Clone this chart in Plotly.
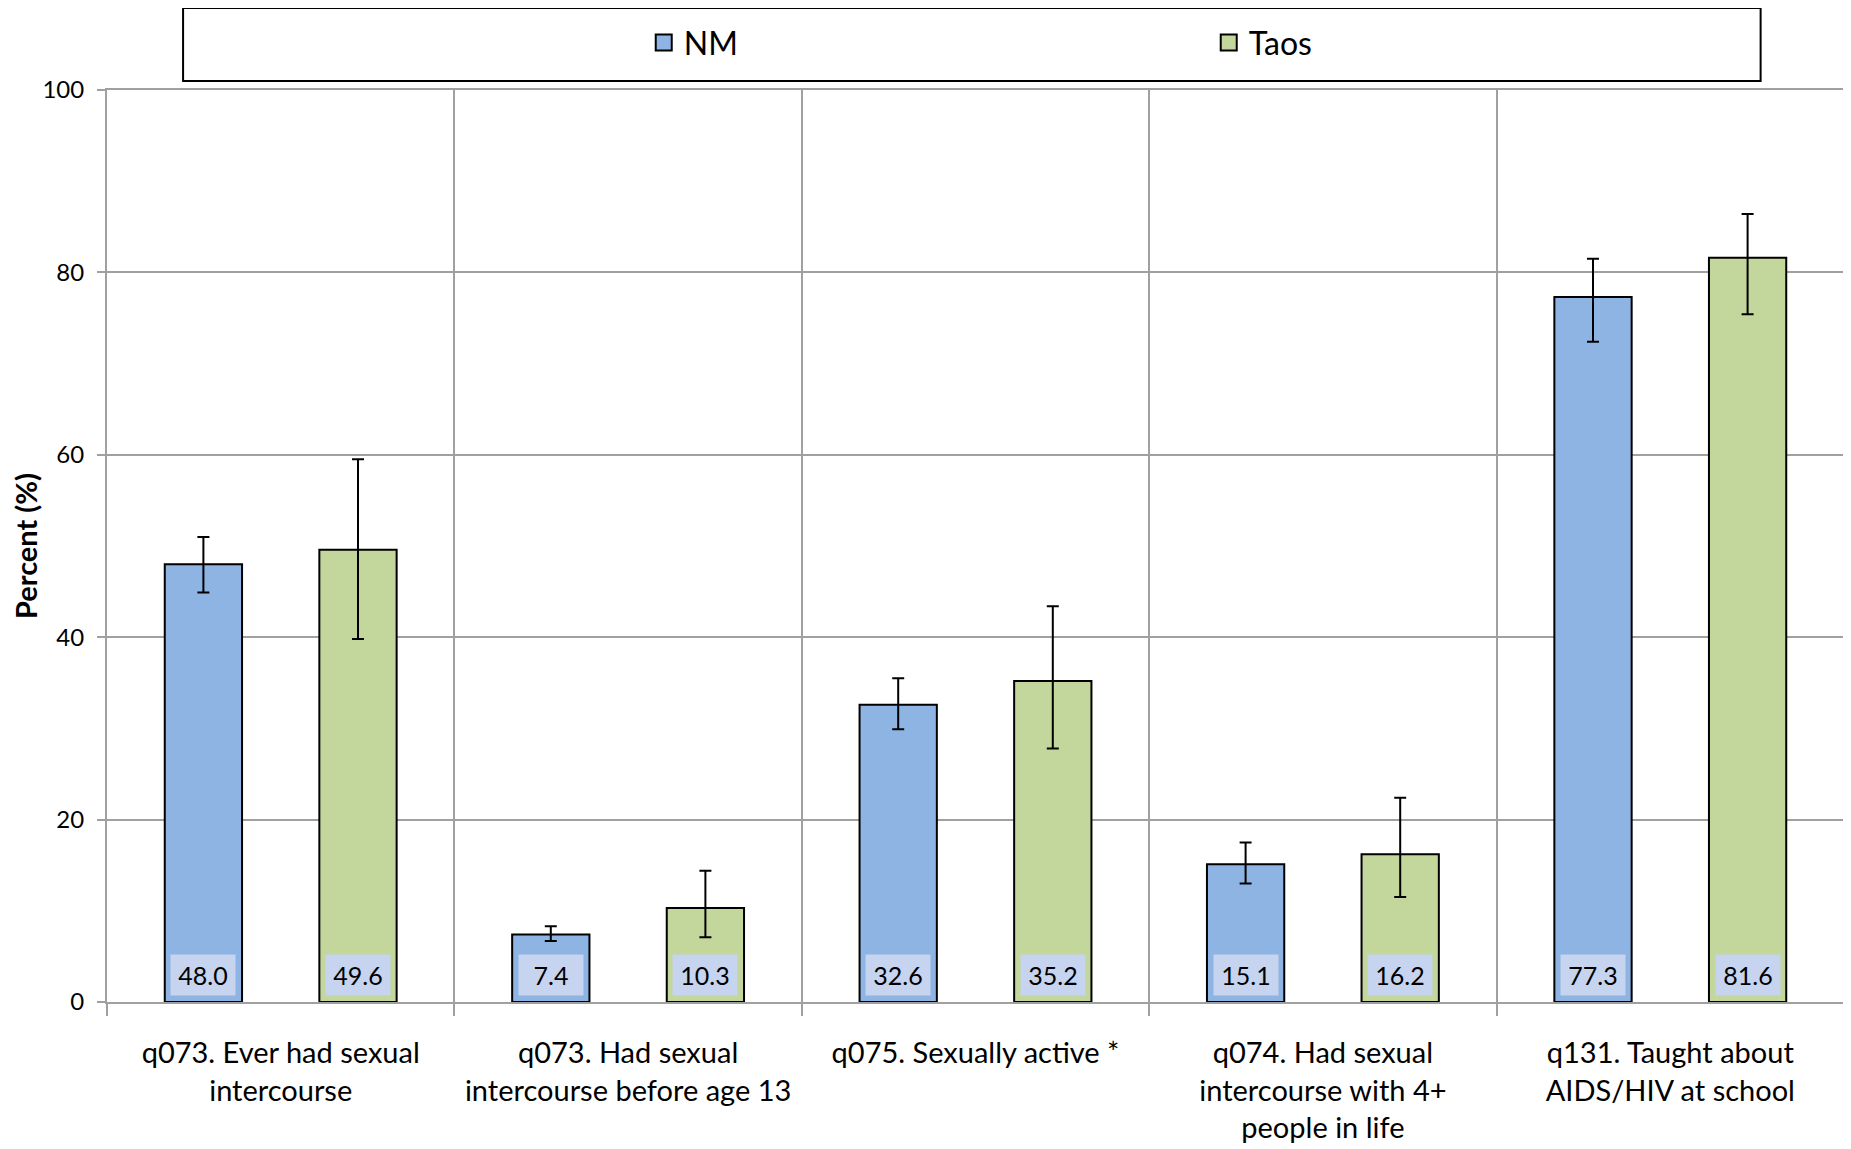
import plotly.graph_objects as go

categories = [
    "q073. Ever had sexual<br>intercourse",
    "q073. Had sexual<br>intercourse before age 13",
    "q075. Sexually active *",
    "q074. Had sexual<br>intercourse with 4+<br>people in life",
    "q131. Taught about<br>AIDS/HIV at school",
]
nm_values = [48.0, 7.4, 32.6, 15.1, 77.3]
nm_upper = [51.0, 8.3, 35.5, 17.5, 81.5]
nm_lower = [44.9, 6.7, 29.9, 13.0, 72.4]
taos_values = [49.6, 10.3, 35.2, 16.2, 81.6]
taos_upper = [59.5, 14.4, 43.4, 22.4, 86.4]
taos_lower = [39.8, 7.1, 27.8, 11.5, 75.4]
y_ticks = [0, 20, 40, 60, 80, 100]

FONT = "Lato"
NM_COLOR = "#8EB4E3"
TAOS_COLOR = "#C3D69B"
GRID = "#A0A0A0"
BARGAP = 0.11
BARGROUPGAP = 0.5

fig = go.Figure()
for name, vals, up, lo, col in [
    ("NM", nm_values, nm_upper, nm_lower, NM_COLOR),
    ("Taos", taos_values, taos_upper, taos_lower, TAOS_COLOR),
]:
    fig.add_trace(go.Bar(
        name=name, x=categories, y=vals, showlegend=False, legendgroup=name,
        marker=dict(color=col, line=dict(color="black", width=2)),
        error_y=dict(type="data", symmetric=False,
                     array=[u - v for u, v in zip(up, vals)],
                     arrayminus=[v - l for v, l in zip(vals, lo)],
                     color="black", thickness=2, width=6),
    ))
# legend entries with larger square swatches
for name, col in [("NM", NM_COLOR), ("Taos", TAOS_COLOR)]:
    fig.add_trace(go.Scatter(
        name=name, x=[None], y=[None], mode="markers", legendgroup=name,
        marker=dict(symbol="square", size=16, color=col, line=dict(color="black", width=2)),
        showlegend=True, hoverinfo="skip",
    ))

offset = (1 - BARGAP) / 4
annotations = []
for i in range(len(categories)):
    for sign, vals in [(-1, nm_values), (1, taos_values)]:
        annotations.append(dict(
            x=i + sign * offset, y=0, xref="x", yref="y",
            text=f"{vals[i]:.1f}", showarrow=False,
            yanchor="bottom", yshift=6,
            font=dict(family=FONT, size=25, color="black"),
            bgcolor="#C6D4EF", borderpad=4, width=56, height=32,
        ))

fig.update_layout(
    width=1843, height=1141,
    paper_bgcolor="white", plot_bgcolor="white",
    barmode="group", bargap=BARGAP, bargroupgap=BARGROUPGAP,
    margin=dict(l=99, r=5, t=82, b=146),
    font=dict(family=FONT, color="black"),
    showlegend=True,
    legend=dict(orientation="h", x=0.309, y=1.052, xanchor="left", yanchor="middle",
                font=dict(family=FONT, size=32, color="black"),
                entrywidth=520, bgcolor="rgba(0,0,0,0)", itemsizing="trace"),
    annotations=annotations,
    shapes=[dict(type="rect", xref="paper", yref="paper",
                 x0=0.0438, x1=0.952, y0=1.0099, y1=1.090,
                 line=dict(color="black", width=2), fillcolor="rgba(0,0,0,0)")],
)
fig.update_xaxes(
    type="category", tickson="boundaries", ticks="outside", ticklen=12,
    tickcolor=GRID, tickwidth=2,
    showgrid=True, gridcolor=GRID, gridwidth=2,
    showline=True, linecolor=GRID, linewidth=2, mirror=True,
    tickfont=dict(family=FONT, size=29, color="black"),
    ticklabelstandoff=24,
)
fig.update_yaxes(
    range=[0, 100], tickvals=y_ticks, ticks="outside", ticklen=8,
    tickcolor=GRID, tickwidth=2,
    showgrid=True, gridcolor=GRID, gridwidth=2,
    showline=True, linecolor=GRID, linewidth=2, mirror=True,
    tickfont=dict(family=FONT, size=24, color="black"),
    ticklabelstandoff=8,
    title=dict(text="<b>Percent (%)</b>", font=dict(family=FONT, size=29, color="black"), standoff=0),
    zeroline=False,
)
fig.write_html("out.html")
